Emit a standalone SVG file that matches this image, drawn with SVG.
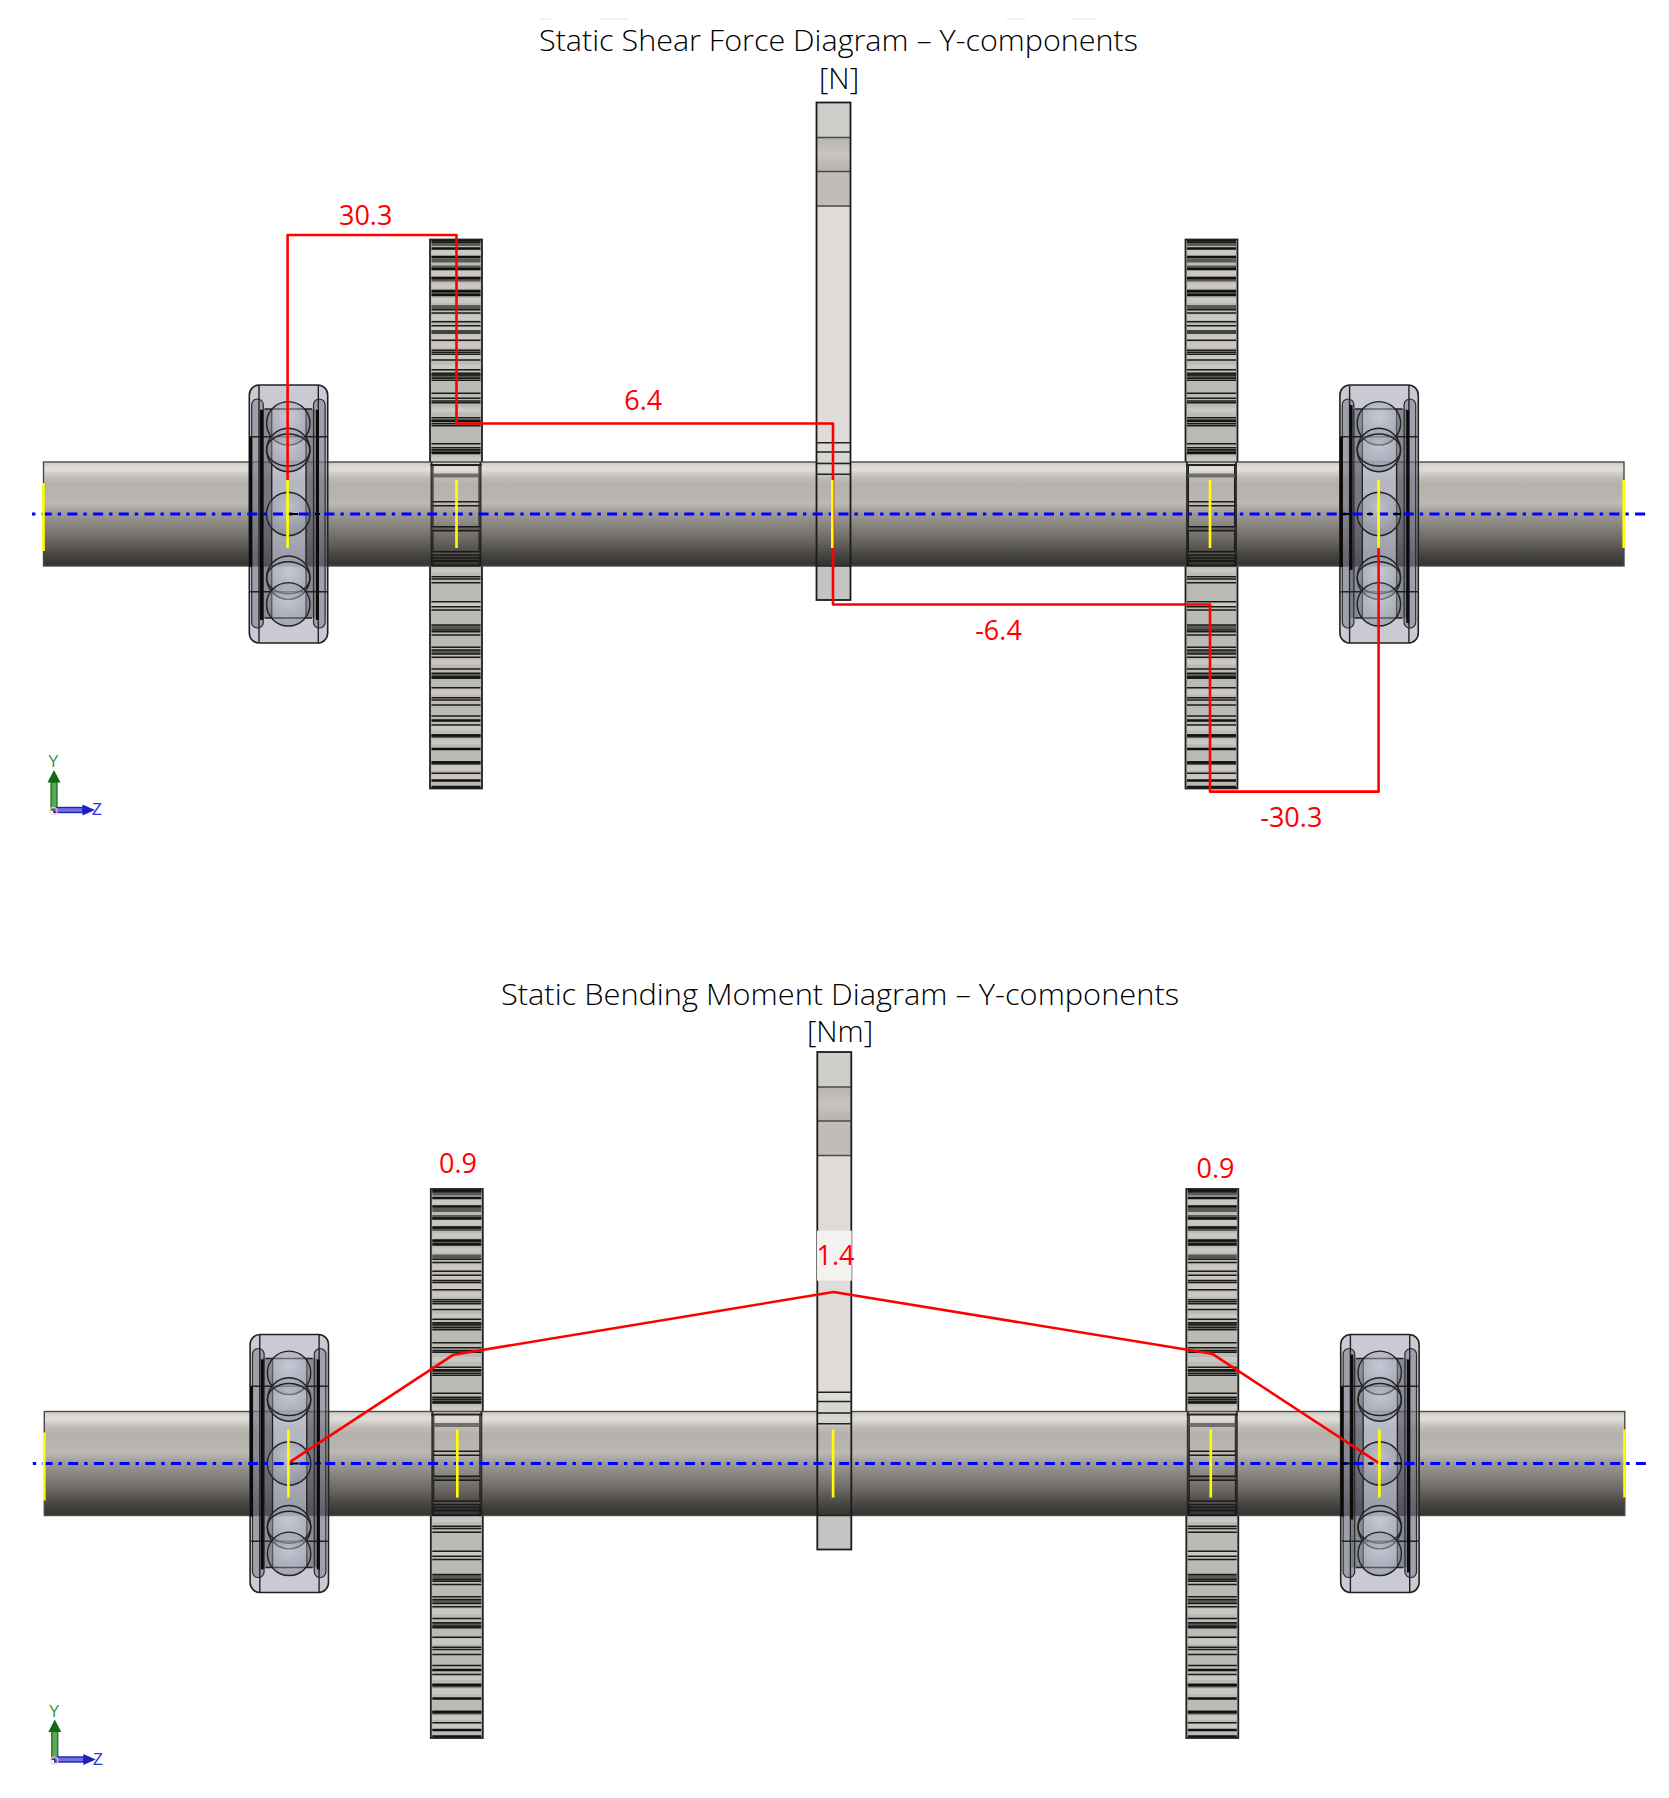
<svg xmlns="http://www.w3.org/2000/svg" xmlns:xlink="http://www.w3.org/1999/xlink" width="1669" height="1798" viewBox="0 0 1669 1798">
<style>
.title{font-family:"Open Sans","Noto Sans",sans-serif;font-weight:300;font-size:29.5px;fill:#000;text-anchor:middle}
.val{font-family:"Open Sans","Noto Sans",sans-serif;font-size:27px;fill:#ff0000;text-anchor:middle}
.red{fill:none;stroke:#ff0000;stroke-width:2.6;stroke-linejoin:round}
.yel{stroke:#ffff00;stroke-width:2.6}
.t{stroke:#1a1a1a;stroke-width:1.4;fill:none}
.m{stroke:#111;stroke-width:2.6;fill:none}
.s{stroke:#5a5955;stroke-width:4;fill:none}
.hl{stroke:#cbc8c3;stroke-width:5;fill:none}
.o{stroke:#222;stroke-width:1.4;fill:none}
.b{stroke:#0a0a0a;stroke-width:3;fill:none}
.ball{fill:url(#ballG);stroke:#222;stroke-width:1.4}
.axis{font-family:"Liberation Sans",sans-serif;font-size:16px;font-weight:400}
</style>
<defs>
<linearGradient id="shaftG" x1="0" y1="0" x2="0" y2="1">
<stop offset="0" stop-color="#cfccc7"/><stop offset=".07" stop-color="#e3e0dc"/><stop offset=".15" stop-color="#c0bdb8"/><stop offset=".22" stop-color="#b4b1ab"/><stop offset=".33" stop-color="#b8b5b0"/><stop offset=".4" stop-color="#bcb9b4"/><stop offset=".5" stop-color="#9c9994"/><stop offset=".62" stop-color="#85817c"/><stop offset=".75" stop-color="#6b6864"/><stop offset=".9" stop-color="#45433f"/><stop offset="1" stop-color="#343331"/>
</linearGradient>
<linearGradient id="hubG" x1="0" y1="0" x2="0" y2="1"><stop offset="0" stop-color="#b8b5b0"/><stop offset=".5" stop-color="#c8c5c0"/><stop offset="1" stop-color="#b5b2ad"/></linearGradient>
<radialGradient id="ballG" cx=".5" cy=".35" r=".7"><stop offset="0" stop-color="#c6c9d6" stop-opacity=".5"/><stop offset="1" stop-color="#70747f" stop-opacity=".45"/></radialGradient>

<g id="gearBack">
<rect x="429.5" y="239.5" width="52" height="549" fill="#bcbab5"/>
<path class="hl" d="M431 252.5H480M431 273H480M431 286H480M431 300.5H480M431 317.5H480M431 328.5H480M431 337H480M431 345H480M431 357H480M431 367H480M431 410H480M431 459H480M431 570H480M431 604H480M431 662H480M431 692H480M431 728H480M431 742H480M431 768H480M431 777H480"/>
<path class="s" d="M431 244H480M431 260.5H480M431 267.5H480M431 279.5H480M431 293H480M431 307H480M431 376H480M431 451H480M431 627.5H480M431 652H480M431 675H480M431 736H480M431 763H480"/>
<path class="m" d="M431 240.5H480M431 248.5H480M431 257H480M431 269H480M431 278H480M431 291H480M431 295H480M431 421H480M431 453H480M431 720.5H480M431 735.5H480M431 749H480M431 762.5H480M431 780.5H480M431 787H480"/>
<path class="t" d="M431 242.3H480M431 309.7H480M431 313H480M431 321.7H480M431 325.7H480M431 331H480M431 333H480M431 340.3H480M431 350.3H480M431 352.3H480M431 354.3H480M431 360H480M431 369.7H480M431 373.3H480M431 375H480M431 378.3H480M431 380.3H480M431 393.3H480M431 398.3H480M431 401H480M431 402.7H480M431 417.7H480M431 420.3H480M431 423.7H480M431 425.7H480M431 443.7H480M431 447.7H480M431 449.7H480M431 576.7H480M431 579H480M431 582.7H480M431 601.7H480M431 606.7H480M431 610H480M431 625H480M431 630H480M431 631.7H480M431 635H480M431 647.3H480M431 650H480M431 654H480M431 657.3H480M431 669H480M431 673.3H480M431 676.7H480M431 678.3H480M431 687.7H480M431 697.7H480M431 700H480M431 705H480M431 716H480M431 725H480M431 773.3H480"/>
<rect x="429.5" y="239.5" width="52" height="549" fill="none" stroke="#222" stroke-width="1.8"/>
</g>
<g id="gearFront">
<rect x="430" y="462" width="2" height="104" fill="#1c1c1c" fill-opacity=".85"/>
<rect x="479" y="462" width="2" height="104" fill="#1c1c1c" fill-opacity=".85"/>
<path d="M432.5 465V566M478.5 465V566" stroke="#1a1a1a" stroke-width="1" fill="none"/>
<path d="M430 465H481" stroke="#222" stroke-width="2" fill="none"/>
<path class="s" d="M432 475.5H479M432 528.5H479M432 553.5H479" stroke-opacity=".8"/>
<path class="t" d="M432 501.7H479M432 505.7H479M432 526.7H479M432 530.7H479M432 551.7H479M432 555H479M432 558H479"/>
<path d="M431 561H480M431 565.5H480" stroke="#1a1a1a" stroke-width="2" fill="none"/>
</g>

<g id="bearing">
<rect x="249.3" y="385" width="78.4" height="258" rx="10" fill="#9396a8" fill-opacity=".5" stroke="#222" stroke-width="1.6"/>
<rect x="260" y="409" width="11" height="209" fill="#3c3e4a" fill-opacity=".45"/>
<rect x="306" y="409" width="11" height="209" fill="#3c3e4a" fill-opacity=".45"/>
<rect x="251.7" y="399" width="11.6" height="229" rx="5.8" fill="#5f6270" fill-opacity=".4" stroke="#2a2a2a" stroke-width="1.2"/>
<rect x="313.5" y="399" width="11.6" height="229" rx="5.8" fill="#5f6270" fill-opacity=".4" stroke="#2a2a2a" stroke-width="1.2"/>
<rect x="271.7" y="409" width="34.3" height="209" fill="#c3c6d6" fill-opacity=".55"/>
<path class="o" d="M259 385V643M318.3 385V643M264.5 409H312M264.5 618H312M271.7 409V618M306 409V618M250 436.7H327M250 591.7H327"/>
<circle class="ball" cx="288.3" cy="423.3" r="21.7"/>
<circle class="ball" cx="288.3" cy="450" r="21.7"/>
<ellipse class="o" cx="288.3" cy="450" rx="21.7" ry="16"/>
<circle class="ball" cx="288.3" cy="514" r="21.7"/>
<circle class="ball" cx="288.3" cy="577.7" r="21.7"/>
<ellipse class="o" cx="288.3" cy="577.7" rx="21.7" ry="16"/>
<circle class="ball" cx="288.3" cy="604.3" r="21.7"/>
</g>

<g id="view">
<use xlink:href="#gearBack" href="#gearBack" transform="translate(.5 0)"/>
<use xlink:href="#gearBack" href="#gearBack" transform="translate(756 0)"/>
<rect id="shaft" x="43.5" y="462" width="1580.5" height="104" fill="url(#shaftG)" stroke="#4a4a48" stroke-width="1.4"/>
<use xlink:href="#gearFront" href="#gearFront" transform="translate(.5 0)"/>
<use xlink:href="#gearFront" href="#gearFront" transform="translate(756 0)"/>
<g id="centreGear">
<rect x="816.5" y="102.5" width="34" height="360" fill="#dedbd8"/>
<rect x="816.5" y="102.5" width="34" height="35" fill="#cfcdca"/>
<rect x="816.5" y="137.5" width="34" height="34" fill="url(#hubG)"/>
<rect x="816.5" y="171.5" width="34" height="34.5" fill="#c0bdb8"/>
<rect x="816.5" y="566" width="34" height="34" fill="#c6c4c2"/>
<rect x="816.5" y="452" width="34" height="22" fill="#d4d2ce" fill-opacity=".55"/>
<path d="M817 137.5H850M817 171.5H850M817 206H850" stroke="#4a4a48" stroke-width="1.5" fill="none"/>
<path class="o" d="M817 442.7H850M817 452H850M817 463.5H850M817 474.3H850M817 566H850"/>
<rect x="816.5" y="102.5" width="34" height="497.5" fill="none" stroke="#1c1c1c" stroke-width="1.8"/>
</g>
<g id="bearingLeft">
<use xlink:href="#bearing" href="#bearing"/>
<path class="b" d="M250.7 437V567M261.5 410V620M317.5 410V620"/>
</g>
<g id="bearingRight">
<use xlink:href="#bearing" href="#bearing" transform="translate(1090.6 0)"/>
<path class="b" d="M1351 405V570M1407.7 410V623M1341.3 437V567"/>
</g>
<path d="M32 514H1651" stroke="#0000ff" stroke-width="2.8" fill="none" stroke-dasharray="3.4 6.3 10 6"/>
<path d="M287 514H298M315 514H320M1341 514H1349M1367 514H1373M1393 514H1401" stroke="#000" stroke-width="2" fill="none"/>
</g>
<g id="yellows">
<path class="yel" d="M43.5 483V551M1623.7 480V548M287.6 480V548M456.5 480V548M832.3 480V548M1210 480V548M1378.6 480V548"/>
</g>
<g id="triad">
<rect x="51" y="782" width="6" height="28" fill="#5aa85a" stroke="#146914" stroke-width="1.2"/>
<path d="M47.5 782.5L54 770L60.5 782.5Z" fill="#146914"/>
<rect x="54" y="807.5" width="29" height="5" fill="#7070e0" stroke="#2020c0" stroke-width="1.4"/>
<path d="M82.5 804.5L95 810L82.5 815.5Z" fill="#2020c0"/>
<circle cx="53.5" cy="811" r="3.6" fill="none" stroke="#f6c8c8" stroke-width="1.2"/>
<path d="M53 808L58 812" stroke="#ee7777" stroke-width="1"/>
<text class="axis" x="53.3" y="767" text-anchor="middle" fill="#2e9b3e">Y</text>
<text class="axis" x="97" y="815" text-anchor="middle" fill="#3030e0">Z</text>
</g>
</defs>

<rect width="1669" height="1798" fill="#ffffff"/>
<path d="M541 19H551M600 19H628M1006 19H1026M1072 19H1096" stroke="#e6e6e6" stroke-width="1.2" fill="none"/>

<g id="shear-view"><use xlink:href="#view" href="#view"/></g>
<g id="bending-view"><use xlink:href="#view" href="#view" transform="translate(.8 949.5)"/></g>

<g id="connectors">
<path id="shear-curve" class="red" d="M287.6 480V235H456.5V423.5H833V604.5H1210V791.6H1378.6V548"/>
<rect id="label-backdrop" x="817" y="1230.7" width="34.7" height="50" fill="#f3f2f1"/>
<path id="moment-curve" class="red" d="M289 1462.7L453.5 1354.7L833.5 1292L1212 1353.7L1379.3 1463.3"/>
</g>
<use xlink:href="#yellows" href="#yellows"/>
<use xlink:href="#yellows" href="#yellows" transform="translate(.8 949.5)"/>
<g id="triad-top"><use xlink:href="#triad" href="#triad"/></g>
<g id="triad-bottom"><use xlink:href="#triad" href="#triad" transform="translate(.8 949.5)"/></g>

<g id="labels">
<text class="title" x="838.5" y="51" textLength="599" lengthAdjust="spacingAndGlyphs">Static Shear Force Diagram – Y-components</text>
<text class="title" x="839" y="89">[N]</text>
<text class="title" x="840" y="1005" textLength="678" lengthAdjust="spacingAndGlyphs">Static Bending Moment Diagram – Y-components</text>
<text class="title" x="840" y="1042">[Nm]</text>
<text class="val" x="365.7" y="224.5">30.3</text>
<text class="val" x="643.2" y="410">6.4</text>
<text class="val" x="998.5" y="639.5">-6.4</text>
<text class="val" x="1291.3" y="826.5">-30.3</text>
<text class="val" x="458" y="1172.5">0.9</text>
<text class="val" x="1215.5" y="1178">0.9</text>
<text class="val" x="835.5" y="1265">1.4</text>
</g>
</svg>
